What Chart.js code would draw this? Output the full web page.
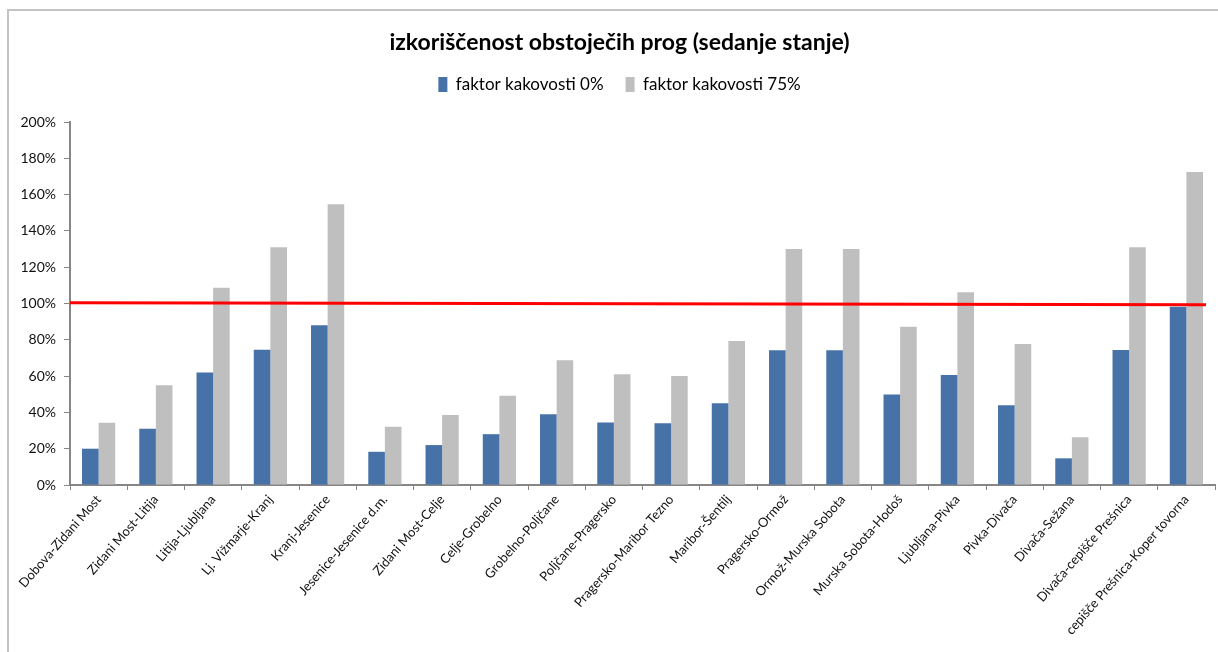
<!DOCTYPE html>
<html>
<head>
<meta charset="utf-8">
<script src="https://cdn.jsdelivr.net/npm/chart.js@4/dist/chart.umd.min.js"></script>
<style>
  html, body { margin: 0; padding: 0; background: #fff; }
  #wrap { position: relative; width: 1218px; height: 652px; overflow: hidden; }
  #frame { position: absolute; left: 7px; top: 9px; right: -10px; bottom: -10px;
           border-top: 2px solid #c3c3c3; border-left: 2px solid #c3c3c3; }
  canvas { position: absolute; left: 0; top: 0; }
</style>
</head>
<body>
<div id="wrap">
  <div id="frame"></div>
  <canvas id="c" width="1218" height="652"></canvas>
</div>
<script>
// Railway sections
const sections = [
  "Dobova-Zidani Most", "Zidani Most-Litija", "Litija-Ljubljana", "Lj. Vižmarje-Kranj",
  "Kranj-Jesenice", "Jesenice-Jesenice d.m.", "Zidani Most-Celje", "Celje-Grobelno",
  "Grobelno-Poljčane", "Poljčane-Pragersko", "Pragersko-Maribor Tezno", "Maribor-Šentilj",
  "Pragersko-Ormož", "Ormož-Murska Sobota", "Murska Sobota-Hodoš", "Ljubljana-Pivka",
  "Pivka-Divača", "Divača-Sežana", "Divača-cepišče Prešnica", "cepišče Prešnica-Koper tovorna"
];

// Utilisation in percent
const quality0 = [20, 31, 62, 74.5, 88, 18.3, 22, 28, 39, 34.5, 34, 45, 74.2, 74.2, 49.8, 60.6, 43.9, 14.7, 74.4, 98.2];
const quality75 = [34.3, 55, 108.7, 131, 154.7, 32.1, 38.6, 49.2, 68.7, 61, 60, 79.3, 130, 130, 87.2, 106.2, 77.7, 26.3, 131, 172.5];

// Capacity limit line (start and end value)
const capacityLine = [100.4, 99.3];

const yTicks = [0, 20, 40, 60, 80, 100, 120, 140, 160, 180, 200];

const FONT = "Lato, 'Open Sans', sans-serif";

const limitLinePlugin = {
  id: 'limitLine',
  afterDatasetsDraw(chart) {
    const { ctx, chartArea, scales } = chart;
    const meta = chart.getDatasetMeta(1);
    const last = meta.data[meta.data.length - 1];
    const xEnd = last.x + last.width / 2 + 3;
    ctx.save();
    ctx.strokeStyle = '#ff0000';
    ctx.lineWidth = 3;
    ctx.beginPath();
    ctx.moveTo(chartArea.left, scales.y.getPixelForValue(capacityLine[0]));
    ctx.lineTo(xEnd, scales.y.getPixelForValue(capacityLine[1]));
    ctx.stroke();
    ctx.restore();
  }
};

// Extra room below the legend, and title/legend centred a bit to the right
const headerPlugin = {
  id: 'header',
  beforeLayout(chart) {
    const lg = chart.legend;
    if (lg && !lg._spaced) {
      const fit = lg.fit;
      lg.fit = function () { fit.call(this); this.height = 68; };
      lg._spaced = true;
    }
  },
  afterLayout(chart) {
    const shift = 12;
    [chart.titleBlock, chart.legend].forEach(b => {
      if (b) { b.left += shift; b.right += shift; }
    });
  }
};

new Chart(document.getElementById('c'), {
  type: 'bar',
  data: {
    labels: sections,
    datasets: [
      { label: 'faktor kakovosti 0%', data: quality0, backgroundColor: '#4672a8',
        categoryPercentage: 0.58, barPercentage: 1 },
      { label: 'faktor kakovosti 75%', data: quality75, backgroundColor: '#bfbfbf',
        categoryPercentage: 0.58, barPercentage: 1 }
    ]
  },
  options: {
    responsive: false,
    animation: false,
    devicePixelRatio: 1,
    layout: { padding: { left: 0, right: 3, top: 0, bottom: 0 } },
    plugins: {
      tooltip: { enabled: false },
      title: {
        display: true,
        text: 'izkoriščenost obstoječih prog (sedanje stanje)',
        color: '#000',
        font: { family: FONT, size: 23, weight: 'bold', lineHeight: 1 },
        padding: { top: 31, bottom: 0 }
      },
      legend: {
        display: true,
        labels: {
          color: '#000',
          font: { family: FONT, size: 17 },
          boxWidth: 9, boxHeight: 15, padding: 22
        }
      }
    },
    scales: {
      x: {
        afterFit(s) { s.height = 167; },
        border: { color: '#868686', width: 2 },
        grid: { display: true, drawOnChartArea: false, drawTicks: true, tickLength: 5, color: '#868686', offset: true },
        ticks: {
          color: '#111',
          font: { family: FONT, size: 13 },
          minRotation: 49, maxRotation: 49, autoSkip: false, padding: 2
        }
      },
      y: {
        min: 0, max: 200,
        afterFit(s) { s.width = 70; },
        afterBuildTicks(s) { s.ticks = yTicks.map(v => ({ value: v })); },
        border: { color: '#868686', width: 2 },
        grid: { display: true, drawOnChartArea: false, drawTicks: true, tickLength: 6, color: '#868686' },
        ticks: {
          color: '#111',
          font: { family: FONT, size: 14 },
          padding: 8,
          callback: v => v + '%'
        }
      }
    }
  },
  plugins: [limitLinePlugin, headerPlugin]
});
</script>
</body>
</html>
